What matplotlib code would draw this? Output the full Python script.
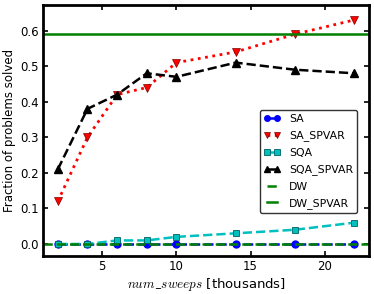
import numpy as np
import matplotlib
matplotlib.use('Agg')
import matplotlib.pyplot as plt

sweeps = [2, 4, 6, 8, 10, 14, 18, 22]
sa = [0.0, 0.0, 0.0, 0.0, 0.0, 0.0, 0.0, 0.0]
sa_spvar = [0.12, 0.30, 0.42, 0.44, 0.51, 0.54, 0.59, 0.63]
sqa = [0.0, 0.0, 0.01, 0.01, 0.02, 0.03, 0.04, 0.06]
sqa_spvar = [0.21, 0.38, 0.42, 0.48, 0.47, 0.51, 0.49, 0.48]
dw = 0.0
dw_spvar = 0.59

plt.rcParams['font.size'] = 8.5
plt.rcParams['mathtext.fontset'] = 'cm'
plt.rcParams['xtick.direction'] = 'in'
plt.rcParams['ytick.direction'] = 'in'
plt.rcParams['xtick.top'] = True
plt.rcParams['ytick.right'] = True

fig = plt.figure(figsize=(3.74, 2.94), dpi=100)
ax = fig.add_axes([0.115, 0.129, 0.872, 0.854])

ax.plot(sweeps, sa, '--', color='b', marker='o', ms=5, lw=1.8, label='SA')
ax.plot(sweeps, sa_spvar, ':', color='r', marker='v', ms=6, lw=2, mec='#800000', mew=0.5, label='SA_SPVAR')
ax.plot(sweeps, sqa, '--', color='c', marker='s', ms=5, lw=1.8, mfc='c', mec='#006060', mew=0.6, label='SQA')
ax.plot(sweeps, sqa_spvar, '--', color='k', marker='^', ms=5.5, lw=1.8, label='SQA_SPVAR')
ax.axhline(dw, ls='--', color='g', lw=1.8, label='DW')
ax.axhline(dw_spvar, ls='-', color='g', lw=1.8, label='DW_SPVAR')

ax.set_xlim(1, 23)
ax.set_ylim(-0.034, 0.672)
ax.set_xticks([5, 10, 15, 20])
ax.set_yticks([0.0, 0.1, 0.2, 0.3, 0.4, 0.5, 0.6])
ax.set_xlabel(r'$num\_sweeps$ [thousands]', labelpad=2, fontsize=9.5)
ax.set_ylabel('Fraction of problems solved', labelpad=3)
for s in ax.spines.values():
    s.set_linewidth(2)
ax.tick_params(width=1.2, length=3.5, pad=3, labelsize=8.5)

leg = ax.legend(loc='upper left', bbox_to_anchor=(0.648, 0.605), numpoints=2,
                fontsize=7.8, fancybox=True, framealpha=1, edgecolor='#333333',
                handlelength=1.5, labelspacing=0.6, borderpad=0.4, handletextpad=0.8,
                markerscale=0.8)
leg.get_frame().set_linewidth(1)

plt.savefig('out.png', dpi=100)
